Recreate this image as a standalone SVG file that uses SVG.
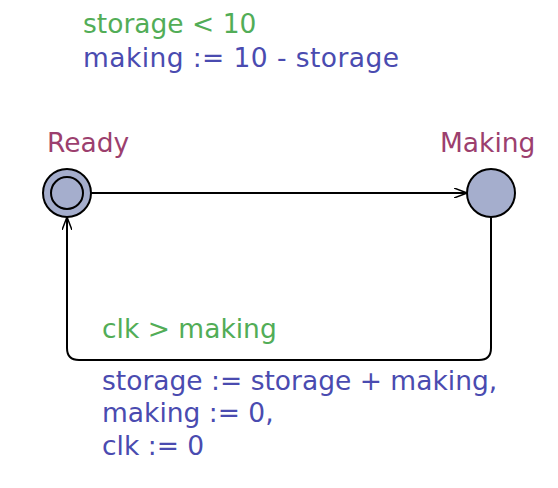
<svg xmlns="http://www.w3.org/2000/svg" width="558" height="488" viewBox="0 0 558 488">
<style>
text{font-family:"DejaVu Sans","Liberation Sans",sans-serif;font-size:26.5px}
.g{fill:#52ad57}
.b{fill:#4a4bb0}
.n{fill:#9c3f6e}
.loc{fill:#a5aecd;stroke:#000;stroke-width:2}
.e{fill:none;stroke:#000;stroke-width:2}
</style>
<defs>
<marker id="ar" viewBox="0 0 14 10" refX="13" refY="5" markerWidth="14" markerHeight="10" markerUnits="userSpaceOnUse" orient="auto">
<path d="M0,0 L13,5 L0,10 M3,5 L13,5" fill="none" stroke="#000" stroke-width="1.5"/>
</marker>
</defs>
<rect width="558" height="488" fill="#fff"/>
<g id="edges">
<line class="e" x1="91" y1="193" x2="467" y2="193" marker-end="url(#ar)"/>
<path class="e" d="M491,217 L491,348 Q491,360 479,360 L79,360 Q67,360 67,348 L67,217" marker-end="url(#ar)"/>
<text class="g" x="83" y="33">storage &lt; 10</text>
<text class="b" x="83" y="67" textLength="316" lengthAdjust="spacing">making := 10 - storage</text>
<text class="g" x="102" y="338">clk &gt; making</text>
<text class="b" x="102" y="390">storage := storage + making,</text>
<text class="b" x="102" y="422">making := 0,</text>
<text class="b" x="102" y="455">clk := 0</text>
</g>
<g id="ready">
<circle class="loc" cx="67" cy="193" r="24"/>
<circle class="e" cx="67" cy="193" r="16"/>
<text class="n" x="47" y="152">Ready</text>
</g>
<g id="making">
<circle class="loc" cx="491" cy="193" r="24"/>
<text class="n" x="440" y="152">Making</text>
</g>
</svg>
